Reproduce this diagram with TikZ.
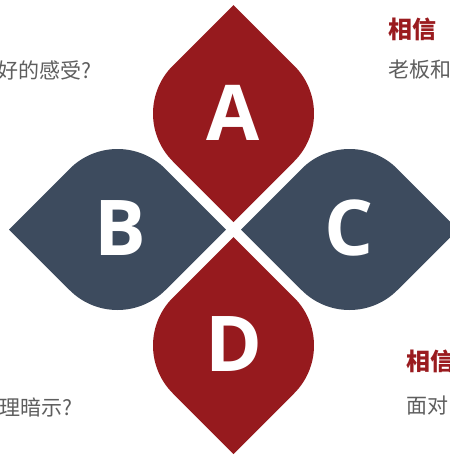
\documentclass[tikz,border=0pt]{standalone}
\usepackage{fontspec}
\newfontfamily\cjk{Noto Sans CJK SC}
\newfontfamily\letterfont{Open Sans}
\definecolor{leafred}{HTML}{961A1E}
\definecolor{leafblue}{HTML}{3D4B5E}
\definecolor{txtgray}{HTML}{5E5E5E}
\definecolor{txtred}{HTML}{9A1B1F}
\tikzset{
  vleaf/.pic={\path[pic actions] (0,-108.5) -- (-60.7,-47.8) arc[start angle=225,end angle=135,radius=67.6] -- (0,108.5) -- (60.7,47.8) arc[start angle=45,end angle=-45,radius=67.6] -- cycle;},
  hleaf/.pic={\path[pic actions] (-108.5,0) -- (-47.8,-60.7) arc[start angle=225,end angle=315,radius=67.6] -- (108.5,0) -- (47.8,60.7) arc[start angle=45,end angle=135,radius=67.6] -- cycle;},
  letter/.style={text=white, font=\letterfont\bfseries\fontsize{77}{77}\selectfont, inner sep=0pt, anchor=base},
  graytxt/.style={text=txtgray, font=\cjk\fontsize{21}{21}\selectfont, inner sep=0pt},
  redtxt/.style={text=txtred, font=\cjk\bfseries\fontsize{24}{24}\selectfont, inner sep=0pt}
}
\begin{document}
\begin{tikzpicture}[x=1pt,y=-1pt]
\useasboundingbox (0,0) rectangle (450,459);
\clip (0,0) rectangle (450,459);
\pic[fill=leafred] at (233.5,113.5) {vleaf};
\pic[fill=leafred] at (233.5,345.5) {vleaf};
\pic[fill=leafblue] at (117.5,229.5) {hleaf};
\pic[fill=leafblue] at (349.5,229.5) {hleaf};
\node[letter] (la) at (233.5,140) {A};
\node[letter] (lb) at (120,255) {B};
\node[letter] (lc) at (349.5,255) {C};
\node[letter] (ld) at (233.5,371.5) {D};
\node[graytxt, anchor=base east] (t1) at (92,78) {好的感受?};
\node[redtxt, anchor=base west] (t2) at (388,38.5) {相信};
\node[graytxt, anchor=base west] (t3) at (388,77) {老板和};
\node[graytxt, anchor=base east] (t4) at (73,415) {理暗示?};
\node[redtxt, anchor=base west] (t5) at (406,370.5) {相信};
\node[graytxt, anchor=base west] (t6) at (406,413.5) {面对};
\end{tikzpicture}
\end{document}
